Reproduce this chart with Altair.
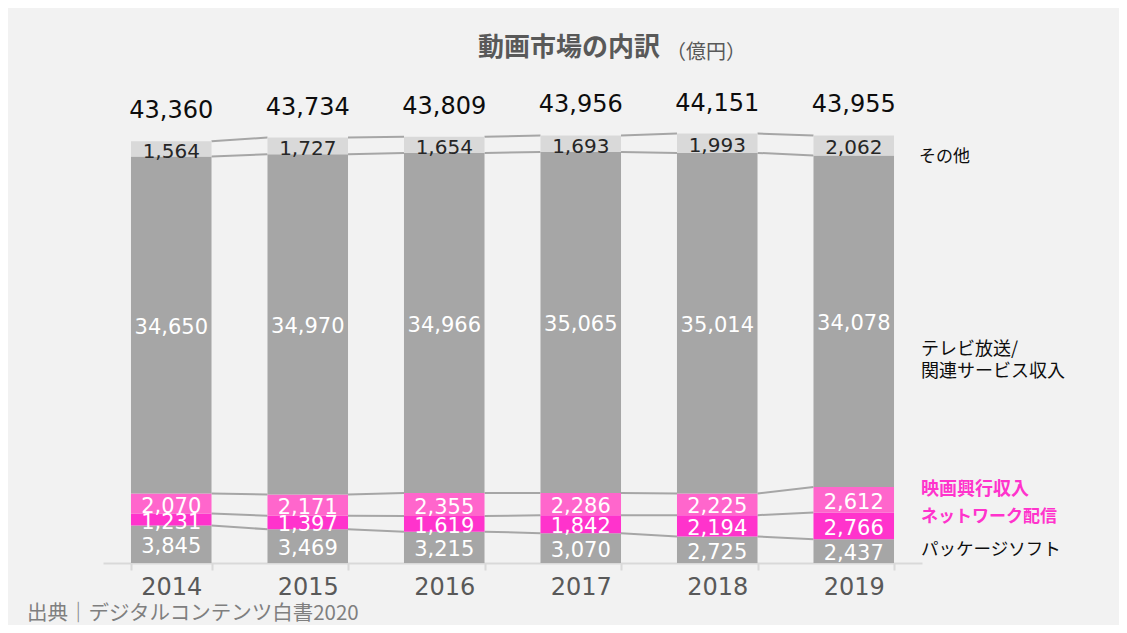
import altair as alt
import pandas as pd

years = ["2014", "2015", "2016", "2017", "2018", "2019"]
series_names = ["パッケージソフト", "ネットワーク配信", "映画興行収入", "テレビ放送/関連サービス収入", "その他"]
package = [3845, 3469, 3215, 3070, 2725, 2437]
network = [1231, 1397, 1619, 1842, 2194, 2766]
movie = [2070, 2171, 2355, 2286, 2225, 2612]
tv = [34650, 34970, 34966, 35065, 35014, 34078]
other = [1564, 1727, 1654, 1693, 1993, 2062]
totals = [43360, 43734, 43809, 43956, 44151, 43955]
series_colors = ["#a6a6a6", "#ff33cc", "#ff66cc", "#a6a6a6", "#d9d9d9"]

FONT = "DejaVu Sans, Noto Sans CJK JP"
JFONT = "Noto Sans CJK JP, DejaVu Sans"

P_INNER = 0.41
P_OUTER = 0.205

series_vals = [package, network, movie, tv, other]
rows = []
cums = []
for i, yr in enumerate(years):
    base = 0
    tops = []
    for k, name in enumerate(series_names):
        v = series_vals[k][i]
        rows.append({"year": yr, "series": name, "value": v, "y0": base, "y1": base + v,
                     "mid": base + v / 2, "label": f"{v:,}", "light": k == 4})
        base += v
        tops.append(base)
    cums.append(tops)
df = pd.DataFrame(rows)

# connector lines: from right edge of bar i to left edge of bar i+1 (in band-step units)
conn = []
cid = 0
for i in range(len(years) - 1):
    for k in range(len(series_names)):
        conn.append({"id": cid, "pos": i + P_OUTER + (1 - P_INNER), "v": cums[i][k]})
        conn.append({"id": cid, "pos": i + 1 + P_OUTER, "v": cums[i + 1][k]})
        cid += 1
conn_df = pd.DataFrame(conn)

tot_df = pd.DataFrame({"year": years, "total": totals, "label": [f"{t:,}" for t in totals]})

xscale = alt.Scale(domain=years, paddingInner=P_INNER, paddingOuter=P_OUTER)
yscale = alt.Scale(domain=[0, 46260], nice=False, zero=True)

xaxis = alt.Axis(title=None, labelFontSize=24, labelColor="#595959", labelFont=FONT,
                 domainColor="#d9d9d9", domainWidth=2, tickColor="#d9d9d9", tickWidth=2,
                 tickSize=7, tickBand="extent", labelPadding=5, labelAngle=0)

bars = alt.Chart(df).mark_bar().encode(
    x=alt.X("year:N", scale=xscale, axis=xaxis),
    y=alt.Y("y0:Q", scale=yscale, axis=None),
    y2="y1:Q",
    color=alt.Color("series:N", scale=alt.Scale(domain=series_names, range=series_colors), legend=None),
)

lines = alt.Chart(conn_df).mark_line(color="#a6a6a6", strokeWidth=2).encode(
    x=alt.X("pos:Q", scale=alt.Scale(domain=[0, len(years)], nice=False, zero=False), axis=None),
    y=alt.Y("v:Q", scale=yscale, axis=None),
    detail="id:N",
)

seg_labels = alt.Chart(df[~df["light"]]).mark_text(
    font=FONT, fontSize=21, color="white", baseline="middle", align="center", dy=3
).encode(
    x=alt.X("year:N", scale=xscale), y=alt.Y("mid:Q", scale=yscale), text="label:N"
)

other_labels = alt.Chart(df[df["light"]]).mark_text(
    font=FONT, fontSize=20, color="#262626", baseline="middle", align="center", dy=3
).encode(
    x=alt.X("year:N", scale=xscale), y=alt.Y("mid:Q", scale=yscale), text="label:N"
)

tot_labels = alt.Chart(tot_df).mark_text(
    font=FONT, fontSize=24, color="#0d0d0d", baseline="middle", align="center", dy=-30
).encode(
    x=alt.X("year:N", scale=xscale), y=alt.Y("total:Q", scale=yscale), text="label:N"
)

def note(text, x, y, size=17, color="#0d0d0d", weight="normal", font=JFONT):
    return alt.Chart(pd.DataFrame({"t": [text]})).mark_text(
        font=font, fontSize=size, color=color, fontWeight=weight, align="left", baseline="middle"
    ).encode(x=alt.value(x), y=alt.value(y), text="t:N")

notes = [
    note("動画市場の内訳", 375, -65, size=26, color="#595959", weight="bold"),
    note("（億円）", 563, -60, size=20, color="#595959"),
    note("その他", 816, 44),
    note("テレビ放送/", 818, 237, size=18),
    note("関連サービス収入", 818, 259, size=18),
    note("映画興行収入", 818, 377, size=18, color="#ff33cc", weight="bold"),
    note("ネットワーク配信", 818, 404, color="#ff33cc", weight="bold"),
    note("パッケージソフト", 818, 437, size=17.5),
    note("出典｜デジタルコンテンツ白書2020", -76, 501, size=20.5, color="#7f7f7f"),
]

main = alt.layer(bars, seg_labels, other_labels, tot_labels)

chart = alt.layer(lines, main, *notes).resolve_scale(x="independent").properties(
    width=819, height=450,
    background="#f2f2f2",
    padding={"left": 95, "right": 197, "top": 105, "bottom": 62},
    autosize=alt.AutoSizeParams(type="none"),
).configure_view(strokeWidth=0)

chart.save("out.html", embed_options={"renderer": "svg", "actions": False})
